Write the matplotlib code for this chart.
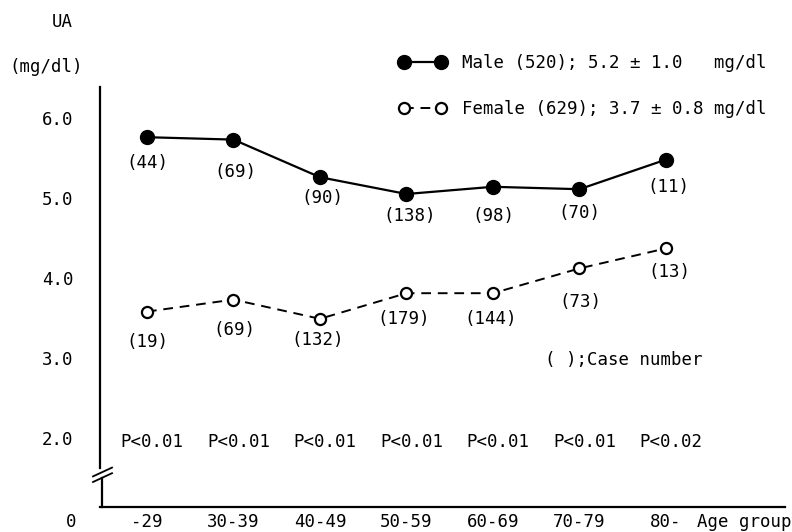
import matplotlib
matplotlib.use("Agg")
import matplotlib.pyplot as plt

plt.rcParams['font.family'] = ['DejaVu Sans Mono']
plt.rcParams['font.size'] = 12.5

age_groups = ['-29', '30-39', '40-49', '50-59', '60-69', '70-79', '80-']
male_ua = [5.76, 5.73, 5.26, 5.05, 5.14, 5.11, 5.48]
female_ua = [3.58, 3.73, 3.49, 3.81, 3.81, 4.12, 4.37]
male_n = [44, 69, 90, 138, 98, 70, 11]
female_n = [19, 69, 132, 179, 144, 73, 13]
p_values = ['P<0.01', 'P<0.01', 'P<0.01', 'P<0.01', 'P<0.01', 'P<0.01', 'P<0.02']

# label offsets in pixels (dx, dy) below each point
male_off = [(0, -26), (2, -32), (2, -21), (3, -22), (0, -29), (0, -24), (2, -27)]
female_off = [(0, -30), (1, -30), (-2, -21), (-3, -26), (-2, -26), (1, -34), (3, -24)]

W, H = 792, 532
fig = plt.figure(figsize=(W / 100, H / 100), dpi=100)
ax = fig.add_axes([100 / W, 1 - 507 / H, 685 / W, 420 / H])

x = list(range(len(age_groups)))
ax.plot(x, male_ua, '-', color='black', lw=1.6, marker='o', ms=10,
        label='Male (520); 5.2 \u00b1 1.0   mg/dl')
ax.plot(x, female_ua, '--', color='black', lw=1.4, marker='o', ms=8,
        mfc='white', mec='black', mew=1.6, dashes=(5, 3.5),
        label='Female (629); 3.7 \u00b1 0.8 mg/dl')

for i in x:
    ax.annotate('(%d)' % male_n[i], (i, male_ua[i]), xytext=male_off[i],
                textcoords='offset pixels', ha='center', va='center')
    ax.annotate('(%d)' % female_n[i], (i, female_ua[i]), xytext=female_off[i],
                textcoords='offset pixels', ha='center', va='center')
    ax.annotate(p_values[i], (i, 2.0), xytext=(5, -4),
                textcoords='offset pixels', ha='center', va='center')

ax.set_xlim(-0.543, 7.376)
ybot = 2 - 69 / 80
ax.set_ylim(ybot, 6 + 31 / 80)

ax.set_yticks([2, 3, 4, 5, 6])
ax.set_yticklabels(['2.0', '3.0', '4.0', '5.0', '6.0'])
ax.set_xticks(x + [6.9])
ax.set_xticklabels(age_groups + ['Age group'])
ax.tick_params(length=0)
ax.tick_params(axis='y', pad=19)
ax.tick_params(axis='x', pad=4)

for s in ['top', 'right']:
    ax.spines[s].set_visible(False)
ax.spines['bottom'].set_linewidth(1.6)
ax.spines['left'].set_linewidth(1.6)
ax.spines['left'].set_bounds(1.62, 6 + 31 / 80)
# lower part of the broken y axis and break marks
ax.plot([-0.543 + 2 / 86.5, -0.543 + 2 / 86.5], [ybot, 1.5], color='black',
        lw=1.6, clip_on=False)
for dy in (0.0, -0.07):
    ax.plot([-0.543 - 7 / 86.5, -0.543 + 12 / 86.5],
            [1.52 + dy, 1.63 + dy], color='black', lw=1.3, clip_on=False)

ax.annotate('0', (0, 0), xycoords='axes fraction', xytext=(-24, -15),
            textcoords='offset pixels', ha='right', va='center')

fig.text(62 / W, 1 - 22 / H, 'UA', ha='center', va='center')
fig.text(46 / W, 1 - 67 / H, '(mg/dl)', ha='center', va='center')
fig.text(545 / W, 1 - 360 / H, '( );Case number', ha='left', va='center')

ax.legend(loc='upper left', bbox_to_anchor=(399 / W, 1 - 54 / H),
          bbox_transform=fig.transFigure, frameon=False, numpoints=2,
          handlelength=2.7, handletextpad=0.9, labelspacing=1.6,
          borderpad=0, borderaxespad=0)

fig.savefig('out.png', dpi=100)
